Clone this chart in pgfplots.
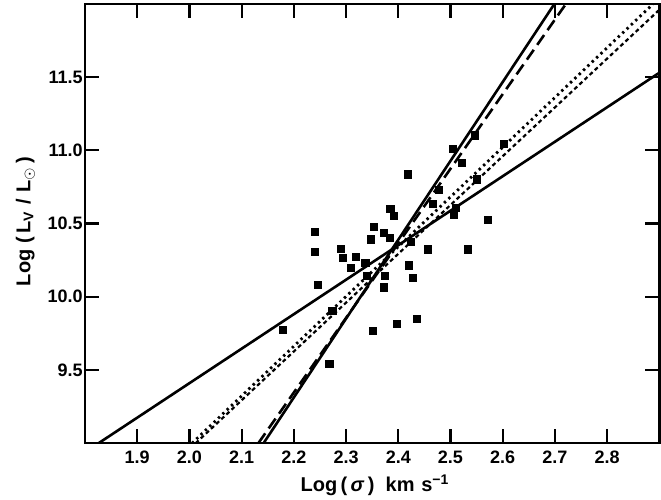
\documentclass[border=0pt]{standalone}
\usepackage{fontspec}
\setmainfont{Liberation Sans}
\usepackage{pgfplots}
\pgfplotsset{compat=1.18}
\begin{document}
\begin{tikzpicture}
\begin{axis}[
  scale only axis,
  width=287pt, height=219.5pt,
  xmin=1.8, xmax=2.9, ymin=9, ymax=12,
  xtick={1.9,2.0,2.1,2.2,2.3,2.4,2.5,2.6,2.7,2.8},
  ytick={9.5,10.0,10.5,11.0,11.5},
  tick align=inside,
  major tick length=7pt,
  axis line style={line width=1.3pt},
  every tick/.style={line width=1.1pt, black},
  /pgf/number format/assume math mode=true,
  /pgf/number format/fixed,
  /pgf/number format/fixed zerofill,
  /pgf/number format/precision=1,
  tick label style={font=\fontsize{9}{10}\selectfont\bfseries},
  xticklabel style={inner sep=1pt, yshift=-2.5pt},
  yticklabel style={inner sep=1pt},
  every axis x label/.style={at={(axis description cs:0.505,0)}, yshift=-21pt, anchor=center,
    font=\fontsize{10}{11}\selectfont\bfseries},
  every axis y label/.style={at={(axis description cs:0,0.505)}, xshift=-29.75pt, rotate=90, anchor=center,
    font=\fontsize{10}{11}\selectfont\bfseries},
  xlabel={Log\,(\,\textit{σ}\,)\ \ km\,\,s\textsuperscript{−1}},
  ylabel={Log\ (\,L\textsubscript{V}\,\,/\,\,L\textsubscript{$\odot$}\,)},
  clip=true,
]
% data points
\addplot[only marks, mark=square*, mark size=1.8pt, black] table {
x y
2.418 10.836
2.385 10.598
2.391 10.555
2.241 10.445
2.353 10.477
2.373 10.437
2.384 10.400
2.347 10.392
2.424 10.374
2.241 10.306
2.290 10.328
2.294 10.265
2.319 10.274
2.337 10.232
2.310 10.196
2.421 10.214
2.375 10.145
2.340 10.141
2.428 10.131
2.246 10.081
2.373 10.064
2.274 9.905
2.179 9.772
2.352 9.768
2.398 9.814
2.436 9.848
2.268 9.544
2.504 11.010
2.547 11.102
2.522 10.912
2.603 11.042
2.550 10.802
2.478 10.729
2.467 10.634
2.510 10.608
2.507 10.562
2.572 10.527
2.456 10.324
2.534 10.324
};
% steep solid
\addplot[black, line width=1.3pt] coordinates {(2.142,9.0) (2.699,12.0)};
% dashed
\addplot[black, line width=1.3pt, dash pattern=on 6pt off 3pt] coordinates {(2.132,9.0) (2.721,12.0)};
% dotted
\addplot[black, line width=1.4pt, dash pattern=on 1.2pt off 1.8pt] coordinates {(2.005,9.0) (2.888,12.0)};
% short dashes
\addplot[black, line width=1.1pt, dash pattern=on 2pt off 1.5pt] coordinates {(2.012,9.0) (2.900,11.96)};
% shallow solid
\addplot[black, line width=1.3pt] coordinates {(1.826,9.0) (2.9,11.53)};
\end{axis}
\pgfresetboundingbox
\path[use as bounding box] ([xshift=-42.5pt,yshift=-28.15pt]current axis.south west) rectangle ([xshift=0.85pt,yshift=2pt]current axis.north east);
\end{tikzpicture}
\end{document}
